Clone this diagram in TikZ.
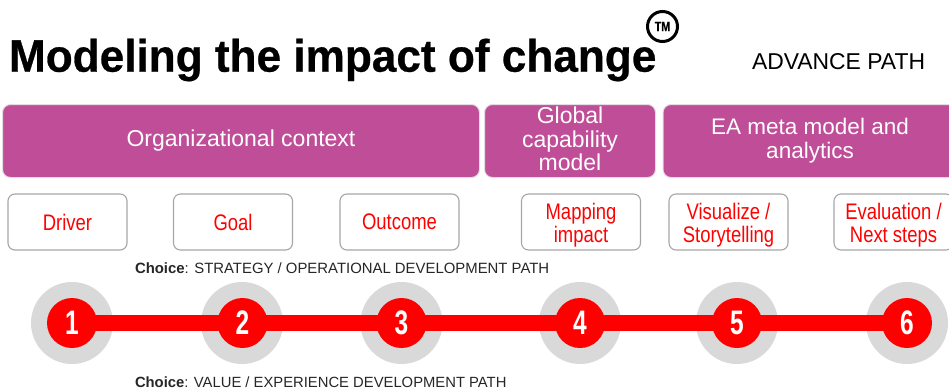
\documentclass[tikz,border=0pt]{standalone}
\usepackage{fontspec}
\setmainfont{Liberation Sans}
\newfontfamily\narrowf[FakeStretch=0.82]{Liberation Sans}
\newfontfamily\numf[FakeStretch=0.72]{Liberation Sans}
\newfontfamily\titlef[FakeStretch=0.97,FakeBold=0.6]{Liberation Sans Bold}
\newfontfamily\tmf[FakeStretch=0.8,FakeBold=0.6]{Liberation Sans Bold}
\newcommand{\liftstrut}{\rule{0pt}{23pt}}
\definecolor{plum}{HTML}{C04D98}
\definecolor{halo}{HTML}{D9D9D9}
\definecolor{rim}{HTML}{E3DDE1}
\definecolor{redbox}{HTML}{A6A6A6}
\tikzset{
  x=1pt,y=-1pt,
  every node/.style={inner sep=0pt,outer sep=0pt},
  plumbox/.style={draw=rim,line width=1pt,fill=plum,rounded corners=8pt,text=white,align=center,
    font=\fontsize{23}{23.5}\selectfont,minimum height=73pt},
  stepbox/.style={draw=redbox,line width=1.1pt,fill=white,rounded corners=7pt,text=red,align=center,
    font=\narrowf\fontsize{22.5}{23}\selectfont,minimum width=119pt,minimum height=56pt},
  haloc/.style={circle,fill=halo,minimum size=82pt},
  dot/.style={circle,fill=red,minimum size=50pt,text=white,font=\numf\bfseries\fontsize{34}{34}\selectfont},
  choice/.style={anchor=west,font=\fontsize{14.9}{16}\selectfont,text=black!85},
  link/.style={draw=red,line width=15.5pt}
}
\begin{document}
\begin{tikzpicture}
\useasboundingbox (0,0) rectangle (949,391);
\clip (0,0) rectangle (949,391);
\node[anchor=west,font=\titlef\fontsize{45.5}{46}\selectfont] (title) at (9,60) {Modeling the impact of change};
\node[circle,draw=black,line width=3pt,minimum size=30pt,font=\tmf\fontsize{13.5}{13.5}\selectfont,text=black] (tm) at (662.5,26.5) {TM};
\node[anchor=west,font=\fontsize{22.9}{23}\selectfont] (adv) at (752,62) {ADVANCE PATH};
\node[plumbox,minimum width=477pt] (org) at (241,141) {Organizational context};
\node[plumbox,minimum width=171pt] (glob) at (570,141) {};
\node[text=white,align=center,font=\fontsize{23}{23.5}\selectfont] (globt) at (570,139) {Global\\capability\\model};
\node[plumbox,minimum width=300pt] (ea) at (813,141) {};
\node[text=white,align=center,font=\fontsize{22.5}{24}\selectfont] (eat) at (810,140.5) {EA meta model and\\analytics};
\node[stepbox] (b1) at (67.5,222) {Driver};
\node[stepbox] (b2) at (233,222) {Goal};
\node[stepbox] (b3) at (399.5,222) {Outcome};
\node[stepbox] (b4) at (581,222) {\liftstrut Mapping\\impact};
\node[stepbox] (b5) at (728.5,222) {\liftstrut Visualize /\\Storytelling};
\node[stepbox] (b6) at (893.5,222) {\liftstrut Evaluation /\\Next steps};
\node[choice] (c1) at (135,268) {\textbf{Choice}: STRATEGY / OPERATIONAL DEVELOPMENT PATH};
\node[choice,font=\fontsize{14.8}{16}\selectfont] (c2) at (135,382) {\textbf{Choice}: VALUE / EXPERIENCE DEVELOPMENT PATH};
\foreach \n/\x in {h1/72,h2/242,h3/401.5,h4/580,h5/737,h6/907}{
  \node[haloc] (\n) at (\x,323) {};
}
\coordinate (a1) at (72,323);
\coordinate (a2) at (242.5,323);
\coordinate (a3) at (401.5,323);
\coordinate (a4) at (580,323);
\coordinate (a5) at (737,323);
\coordinate (a6) at (907,323);
\draw[link] (a1) -- (a2) -- (a3) -- (a4) -- (a5) -- (a6);
\node[dot] (d1) at (a1) {1};
\node[dot] (d2) at (a2) {2};
\node[dot] (d3) at (a3) {3};
\node[dot] (d4) at (a4) {4};
\node[dot] (d5) at (a5) {5};
\node[dot] (d6) at (a6) {6};
\end{tikzpicture}
\end{document}
